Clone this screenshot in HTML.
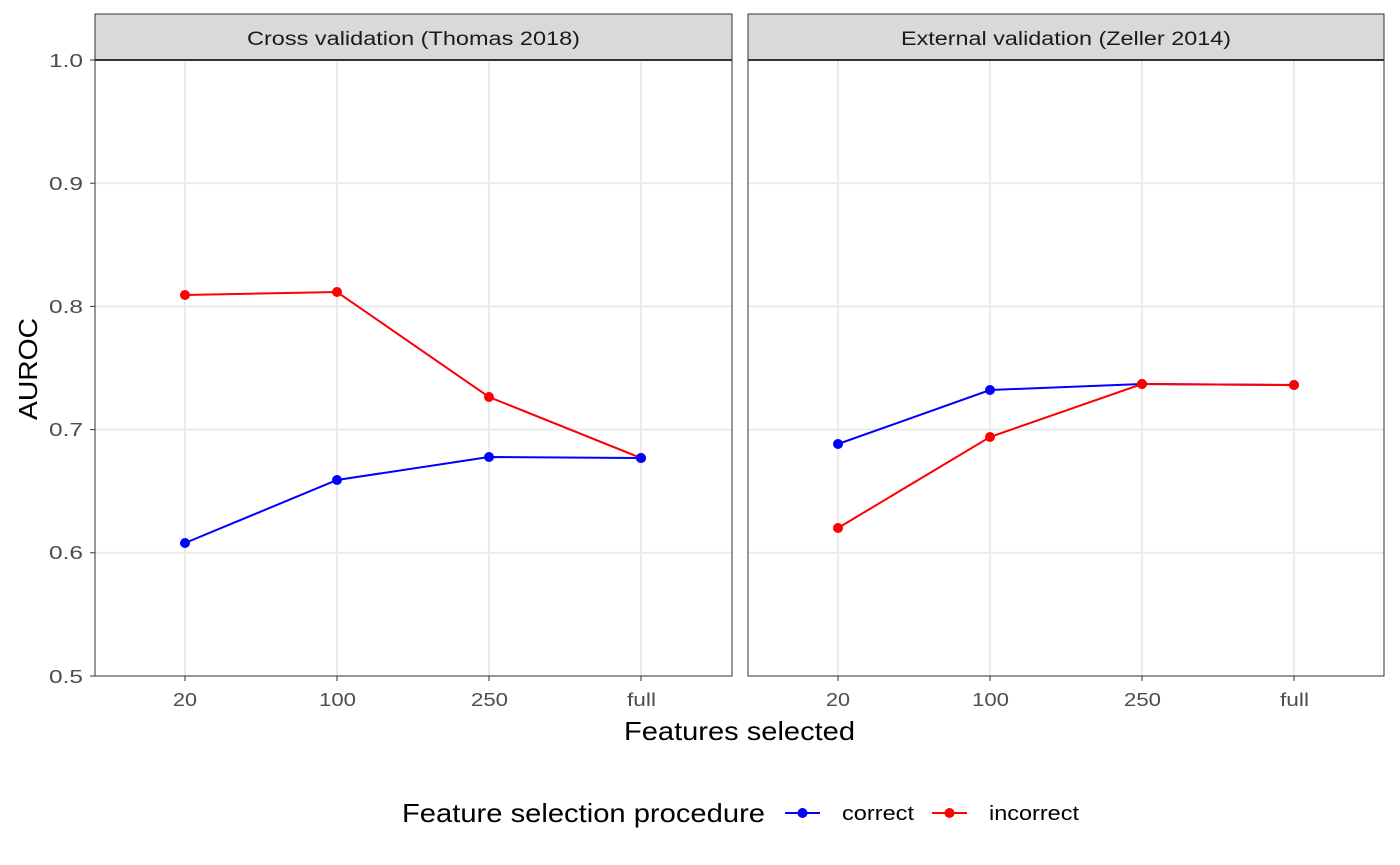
<!DOCTYPE html>
<html><head><meta charset="utf-8"><style>
body{margin:0;background:#fff}
svg{display:block;font-family:"Liberation Sans",sans-serif}
</style></head><body>
<svg width="1400" height="865" xmlns="http://www.w3.org/2000/svg">
<rect width="1400" height="865" fill="#fff"/>
<g id="p1">
<rect x="95" y="14" width="637" height="46" fill="#d9d9d9" stroke="#333" stroke-width="1"/>
<text x="247" y="45" font-size="19" textLength="333" lengthAdjust="spacingAndGlyphs" fill="#1a1a1a">Cross validation (Thomas 2018)</text>
<g stroke="#ebebeb" stroke-width="2">
<line x1="95" x2="732" y1="183.2" y2="183.2"/><line x1="95" x2="732" y1="306.4" y2="306.4"/>
<line x1="95" x2="732" y1="429.6" y2="429.6"/><line x1="95" x2="732" y1="552.8" y2="552.8"/>
<line x1="185" x2="185" y1="60" y2="676"/><line x1="337" x2="337" y1="60" y2="676"/>
<line x1="489" x2="489" y1="60" y2="676"/><line x1="641" x2="641" y1="60" y2="676"/>
</g>
<polyline points="185,295 337,292 489,397 641,458" fill="none" stroke="#f00" stroke-width="2"/>
<polyline points="185,543 337,480 489,457 641,458" fill="none" stroke="#00f" stroke-width="2"/>
<g fill="#f00"><circle cx="185" cy="295" r="5"/><circle cx="337" cy="292" r="5"/><circle cx="489" cy="397" r="5"/><circle cx="641" cy="458" r="5"/></g>
<g fill="#00f"><circle cx="185" cy="543" r="5"/><circle cx="337" cy="480" r="5"/><circle cx="489" cy="457" r="5"/><circle cx="641" cy="458" r="5"/></g>
<rect x="95" y="60" width="637" height="616" fill="none" stroke="#333" stroke-width="1"/>
<line x1="95" x2="732" y1="60" y2="60" stroke="#333" stroke-width="2"/>
</g>
<g id="p2">
<rect x="748" y="14" width="636" height="46" fill="#d9d9d9" stroke="#333" stroke-width="1"/>
<text x="901" y="45" font-size="19" textLength="330" lengthAdjust="spacingAndGlyphs" fill="#1a1a1a">External validation (Zeller 2014)</text>
<g stroke="#ebebeb" stroke-width="2">
<line x1="748" x2="1384" y1="183.2" y2="183.2"/><line x1="748" x2="1384" y1="306.4" y2="306.4"/>
<line x1="748" x2="1384" y1="429.6" y2="429.6"/><line x1="748" x2="1384" y1="552.8" y2="552.8"/>
<line x1="838" x2="838" y1="60" y2="676"/><line x1="990" x2="990" y1="60" y2="676"/>
<line x1="1142" x2="1142" y1="60" y2="676"/><line x1="1294" x2="1294" y1="60" y2="676"/>
</g>
<polyline points="838,444 990,390 1142,384 1294,385" fill="none" stroke="#00f" stroke-width="2"/>
<polyline points="838,528 990,437 1142,384 1294,385" fill="none" stroke="#f00" stroke-width="2"/>
<g fill="#00f"><circle cx="838" cy="444" r="5"/><circle cx="990" cy="390" r="5"/><circle cx="1142" cy="384" r="5"/><circle cx="1294" cy="385" r="5"/></g>
<g fill="#f00"><circle cx="838" cy="528" r="5"/><circle cx="990" cy="437" r="5"/><circle cx="1142" cy="384" r="5"/><circle cx="1294" cy="385" r="5"/></g>
<rect x="748" y="60" width="636" height="616" fill="none" stroke="#333" stroke-width="1"/>
<line x1="748" x2="1384" y1="60" y2="60" stroke="#333" stroke-width="2"/>
</g>
<g stroke="#333" stroke-width="1">
<line x1="90" x2="95" y1="60" y2="60"/><line x1="90" x2="95" y1="183.2" y2="183.2"/><line x1="90" x2="95" y1="306.4" y2="306.4"/>
<line x1="90" x2="95" y1="429.6" y2="429.6"/><line x1="90" x2="95" y1="552.8" y2="552.8"/><line x1="90" x2="95" y1="676" y2="676"/>
<line x1="185" x2="185" y1="676" y2="681"/><line x1="337" x2="337" y1="676" y2="681"/><line x1="489" x2="489" y1="676" y2="681"/><line x1="641" x2="641" y1="676" y2="681"/>
<line x1="838" x2="838" y1="676" y2="681"/><line x1="990" x2="990" y1="676" y2="681"/><line x1="1142" x2="1142" y1="676" y2="681"/><line x1="1294" x2="1294" y1="676" y2="681"/>
</g>
<g font-size="18" fill="#4d4d4d">
<text x="49" y="67" textLength="34" lengthAdjust="spacingAndGlyphs">1.0</text>
<text x="49" y="190" textLength="34" lengthAdjust="spacingAndGlyphs">0.9</text>
<text x="49" y="313" textLength="34" lengthAdjust="spacingAndGlyphs">0.8</text>
<text x="49" y="436" textLength="34" lengthAdjust="spacingAndGlyphs">0.7</text>
<text x="49" y="559" textLength="34" lengthAdjust="spacingAndGlyphs">0.6</text>
<text x="49" y="683" textLength="34" lengthAdjust="spacingAndGlyphs">0.5</text>
</g>
<g font-size="18" fill="#4d4d4d">
<text x="173" y="706" textLength="24" lengthAdjust="spacingAndGlyphs">20</text>
<text x="319" y="706" textLength="37" lengthAdjust="spacingAndGlyphs">100</text>
<text x="471" y="706" textLength="37" lengthAdjust="spacingAndGlyphs">250</text>
<text x="627" y="706" textLength="29" lengthAdjust="spacingAndGlyphs">full</text>
<text x="826" y="706" textLength="24" lengthAdjust="spacingAndGlyphs">20</text>
<text x="972" y="706" textLength="37" lengthAdjust="spacingAndGlyphs">100</text>
<text x="1124" y="706" textLength="37" lengthAdjust="spacingAndGlyphs">250</text>
<text x="1280" y="706" textLength="29" lengthAdjust="spacingAndGlyphs">full</text>
</g>
<text x="624" y="740" font-size="26" textLength="231" lengthAdjust="spacingAndGlyphs" fill="#000">Features selected</text>
<text transform="translate(37,420) rotate(-90)" font-size="26" textLength="102" lengthAdjust="spacingAndGlyphs" fill="#000">AUROC</text>
<text x="402" y="822" font-size="26" textLength="363" lengthAdjust="spacingAndGlyphs" fill="#000">Feature selection procedure</text>
<line x1="785" x2="820" y1="813" y2="813" stroke="#00f" stroke-width="2"/><circle cx="802.5" cy="813" r="5" fill="#00f"/>
<text x="842" y="820" font-size="20" textLength="72" lengthAdjust="spacingAndGlyphs" fill="#000">correct</text>
<line x1="932" x2="967" y1="813" y2="813" stroke="#f00" stroke-width="2"/><circle cx="949.5" cy="813" r="5" fill="#f00"/>
<text x="989" y="820" font-size="20" textLength="90" lengthAdjust="spacingAndGlyphs" fill="#000">incorrect</text>
</svg>
</body></html>
